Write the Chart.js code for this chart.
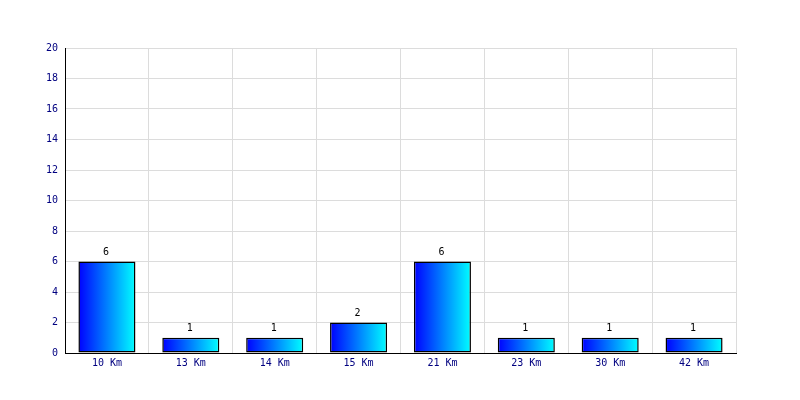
<!DOCTYPE html>
<html>
<head>
<meta charset="utf-8">
<script src="https://cdn.jsdelivr.net/npm/chart.js@4.4.0/dist/chart.umd.min.js"></script>
<style>
  html, body { margin: 0; padding: 0; background: #fff; }
  #wrap { width: 800px; height: 400px; }
</style>
</head>
<body>
<div id="wrap"><canvas id="distChart"></canvas></div>
<script>
// categorie e valori
const distances = ['10 Km', '13 Km', '14 Km', '15 Km', '21 Km', '23 Km', '30 Km', '42 Km'];
const counts = [6, 1, 1, 2, 6, 1, 1, 1];
const yTicks = [0, 2, 4, 6, 8, 10, 12, 14, 16, 18, 20];

const BAR_PCT = 0.68;
const monoFont = { family: 'DejaVu Sans Mono', size: 10 };

// gradiente orizzontale blu -> ciano per ogni barra
function barGradient(context) {
    const chart = context.chart;
    const xs = chart.scales.x;
    if (!xs || !chart.chartArea) return '#0000ff';
    const cx = xs.getPixelForValue(context.dataIndex);
    const half = (xs.width / distances.length) * BAR_PCT / 2;
    const g = chart.ctx.createLinearGradient(cx - half, 0, cx + half, 0);
    g.addColorStop(0, '#0000ff');
    g.addColorStop(1, '#00ffff');
    return g;
}

// etichette con il valore sopra le barre
const valueLabels = {
    id: 'valueLabels',
    afterDatasetsDraw(chart) {
        const ctx = chart.ctx;
        const meta = chart.getDatasetMeta(0);
        ctx.save();
        ctx.font = '10px "DejaVu Sans Mono"';
        ctx.fillStyle = '#000';
        ctx.textAlign = 'center';
        ctx.textBaseline = 'bottom';
        meta.data.forEach((bar, i) => {
            ctx.fillText(String(counts[i]), bar.x - 1, bar.y - 4);
        });
        ctx.restore();
    }
};

const ctx = document.getElementById('distChart').getContext('2d');
const distChart = new Chart(ctx, {
    type: 'bar',
    data: {
        labels: distances,
        datasets: [{
            data: counts,
            backgroundColor: barGradient,
            borderColor: '#000',
            borderWidth: 1.5,
            borderSkipped: false,
            barPercentage: BAR_PCT,
            categoryPercentage: 1
        }]
    },
    options: {
        responsive: true,
        maintainAspectRatio: false,
        animation: false,
        layout: { padding: { left: 0, right: 64, top: 48, bottom: 0 } },
        plugins: {
            legend: { display: false },
            tooltip: { enabled: false }
        },
        scales: {
            x: {
                afterFit: s => { s.height = 47; },
                grid: { color: '#dcdcdc', drawTicks: false, offset: true },
                border: { color: '#000', width: 1 },
                ticks: { color: '#000080', font: monoFont, padding: 4 }
            },
            y: {
                min: 0,
                max: 20,
                afterFit: s => { s.width = 65; },
                afterBuildTicks: s => { s.ticks = yTicks.map(v => ({ value: v })); },
                grid: { color: '#dcdcdc', drawTicks: false },
                border: { color: '#000', width: 1 },
                ticks: { color: '#000080', font: monoFont, padding: 7 }
            }
        }
    },
    plugins: [valueLabels]
});
</script>
</body>
</html>
